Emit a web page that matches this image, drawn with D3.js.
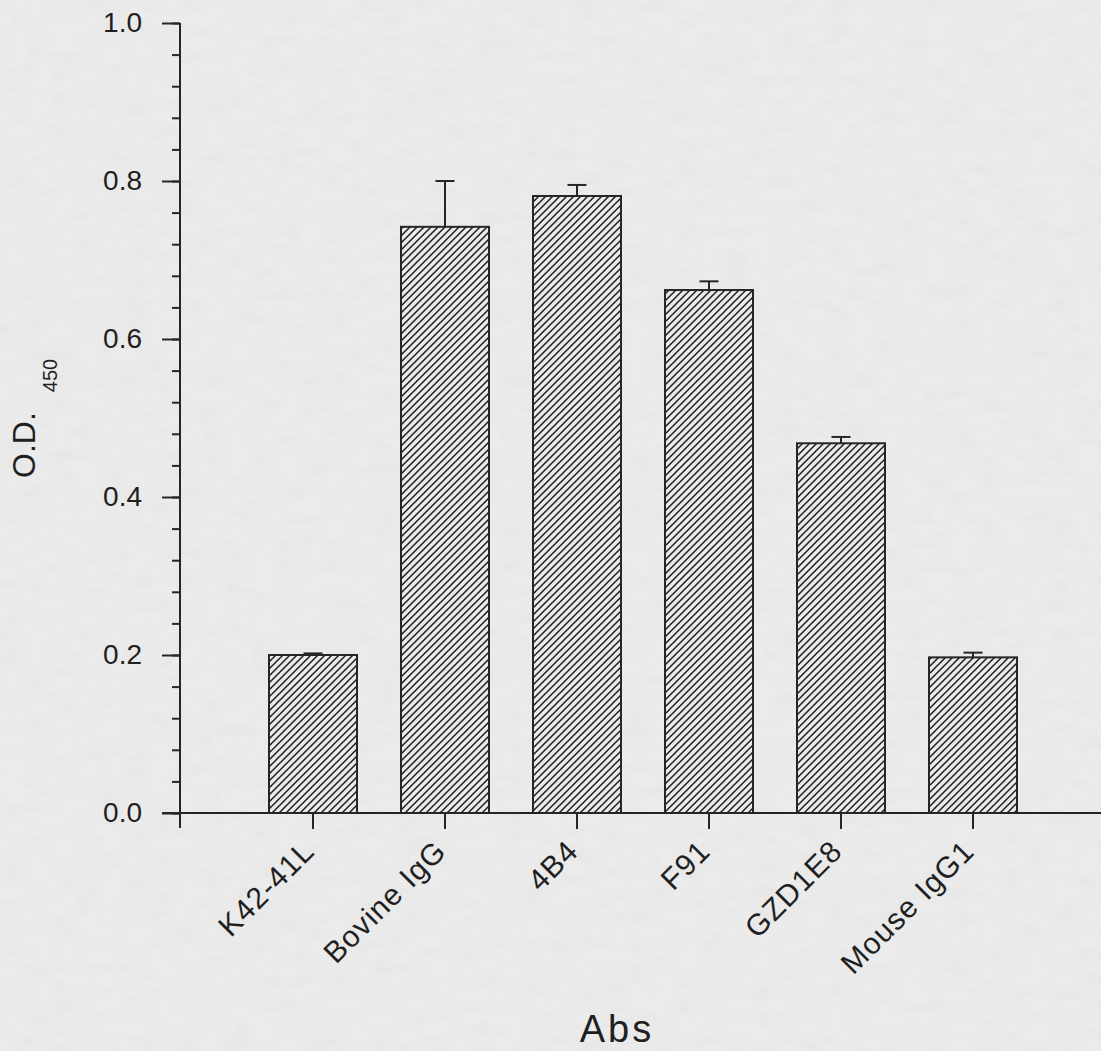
<!DOCTYPE html>
<html>
<head>
<meta charset="utf-8">
<script src="https://cdn.jsdelivr.net/npm/d3@7"></script>
<style>
  html, body { margin: 0; padding: 0; background: #e9e9e9; }
  svg { display: block; }
  text { font-family: "Liberation Sans", Arial, sans-serif; fill: #1f1f1f; }
</style>
</head>
<body>
<div id="chart"></div>
<script>
const categories = ["K42-41L", "Bovine IgG", "4B4", "F91", "GZD1E8", "Mouse IgG1"];
const means = [0.200, 0.742, 0.781, 0.662, 0.468, 0.197];
const errors = [0.002, 0.058, 0.014, 0.011, 0.008, 0.006];
const majorTicks = [0, 0.2, 0.4, 0.6, 0.8, 1.0];
const minorTicks = d3.range(0, 1.0001, 0.04);

const W = 1101, H = 1051;
const ink = "#262626";

const data = categories.map((c, i) => ({ name: c, mean: means[i], err: errors[i] }));

const svg = d3.select("#chart")
  .append("svg")
  .attr("width", W)
  .attr("height", H);

const defs = svg.append("defs");

// scanned paper look
const noise = defs.append("filter").attr("id", "paper")
  .attr("x", 0).attr("y", 0).attr("width", "100%").attr("height", "100%");
noise.append("feTurbulence")
  .attr("type", "fractalNoise")
  .attr("baseFrequency", "0.04 0.08")
  .attr("numOctaves", 3)
  .attr("seed", 7);
noise.append("feColorMatrix")
  .attr("type", "matrix")
  .attr("values", "0 0 0 0 0.55  0 0 0 0 0.55  0 0 0 0 0.55  0 0 0 -0.9 0.55");

const hatch = defs.append("pattern")
  .attr("id", "hatch")
  .attr("patternUnits", "userSpaceOnUse")
  .attr("width", 7)
  .attr("height", 7);
hatch.append("path")
  .attr("d", "M-1,1 L1,-1 M0,7 L7,0 M6,8 L8,6")
  .attr("stroke", "#1e1e1e")
  .attr("stroke-width", 1.5);

svg.append("rect")
  .attr("width", W).attr("height", H)
  .attr("fill", "#ebebeb");
svg.append("rect")
  .attr("width", W).attr("height", H)
  .attr("filter", "url(#paper)")
  .attr("opacity", 0.25);

const x = d3.scaleBand()
  .domain(categories)
  .range([247, 1039])
  .paddingInner(1 / 3)
  .paddingOuter(1 / 6);

const y = d3.scaleLinear()
  .domain([0, 1])
  .range([813, 23]);

const axisX = 180;

// y axis: minor then major ticks
const yMinor = svg.append("g")
  .attr("transform", "translate(" + axisX + ",0)")
  .call(d3.axisLeft(y).tickValues(minorTicks).tickSize(8).tickFormat(""));
yMinor.select(".domain").remove();
yMinor.selectAll("line").attr("stroke", ink).attr("stroke-width", 2);

const yMajor = svg.append("g")
  .attr("transform", "translate(" + axisX + ",0)")
  .call(d3.axisLeft(y).tickValues(majorTicks).tickSize(18).tickPadding(20).tickFormat(d3.format(".1f")));
yMajor.select(".domain").remove();
yMajor.selectAll("line").attr("stroke", ink).attr("stroke-width", 2);
yMajor.selectAll("text")
  .style("font-size", "28px")
  .attr("fill", "#1f1f1f");

svg.append("line")
  .attr("x1", axisX).attr("x2", axisX)
  .attr("y1", y(1)).attr("y2", y(0) + 15)
  .attr("stroke", ink).attr("stroke-width", 2);

// bars
svg.selectAll(".bar")
  .data(data)
  .enter()
  .append("rect")
  .attr("class", "bar")
  .attr("x", d => x(d.name))
  .attr("y", d => y(d.mean))
  .attr("width", x.bandwidth())
  .attr("height", d => y(0) - y(d.mean))
  .attr("fill", "url(#hatch)")
  .attr("stroke", ink)
  .attr("stroke-width", 2);

// upper error bars
const eb = svg.selectAll(".err")
  .data(data)
  .enter()
  .append("g")
  .attr("class", "err");
eb.append("line")
  .attr("x1", d => x(d.name) + x.bandwidth() / 2)
  .attr("x2", d => x(d.name) + x.bandwidth() / 2)
  .attr("y1", d => y(d.mean))
  .attr("y2", d => y(d.mean + d.err))
  .attr("stroke", ink).attr("stroke-width", 2);
eb.append("line")
  .attr("x1", d => x(d.name) + x.bandwidth() / 2 - 9.5)
  .attr("x2", d => x(d.name) + x.bandwidth() / 2 + 9.5)
  .attr("y1", d => y(d.mean + d.err))
  .attr("y2", d => y(d.mean + d.err))
  .attr("stroke", ink).attr("stroke-width", 2);

// x axis
const xAxis = svg.append("g")
  .attr("transform", "translate(0," + y(0) + ")")
  .call(d3.axisBottom(x).tickSize(16));
xAxis.select(".domain").remove();
xAxis.selectAll("line").attr("stroke", ink).attr("stroke-width", 2);
xAxis.selectAll("text")
  .attr("x", 0)
  .attr("y", 0)
  .attr("dy", 0)
  .attr("transform", "translate(3,40) rotate(-45)")
  .style("text-anchor", "end")
  .style("font-size", "30px")
  .style("letter-spacing", "1px")
  .attr("fill", "#1f1f1f");

svg.append("line")
  .attr("x1", 162).attr("x2", W)
  .attr("y1", y(0)).attr("y2", y(0))
  .attr("stroke", ink).attr("stroke-width", 2);

// axis titles
svg.append("text")
  .attr("x", 617)
  .attr("y", 1042)
  .style("text-anchor", "middle")
  .style("font-size", "38px")
  .style("letter-spacing", "3px")
  .text("Abs");

const yTitle = svg.append("text")
  .attr("transform", "translate(35,478) rotate(-90)")
  .style("font-size", "32px");
yTitle.append("tspan").text("O.D.");
yTitle.append("tspan")
  .attr("dx", 20)
  .attr("dy", 22)
  .style("font-size", "20px")
  .text("450");
</script>
</body>
</html>
